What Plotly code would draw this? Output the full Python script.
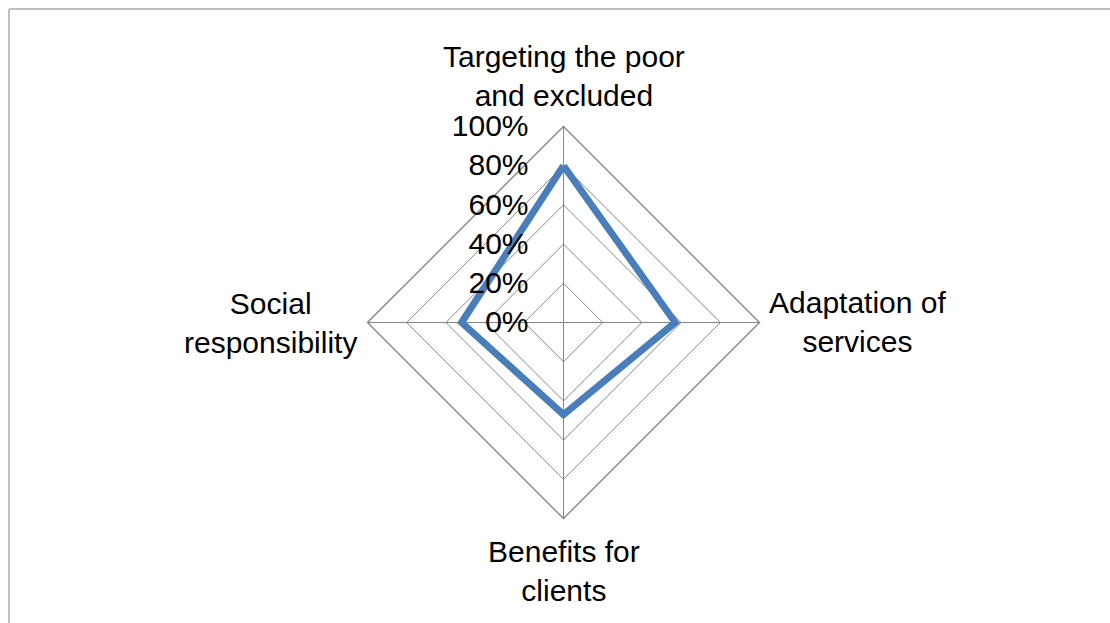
import plotly.graph_objects as go

categories = ["Targeting the poor and excluded", "Adaptation of services",
              "Benefits for clients", "Social responsibility"]
values = [0.80, 0.57, 0.47, 0.52]
radial_ticks = [0, 0.2, 0.4, 0.6, 0.8, 1.0]
radial_tick_labels = ["0%", "20%", "40%", "60%", "80%", "100%"]

FONT = "Liberation Sans Narrow, Arial Narrow, Liberation Sans, Arial, sans-serif"

fig = go.Figure()
fig.add_trace(go.Scatterpolar(
    r=values + values[:1],
    theta=categories + categories[:1],
    mode="lines",
    line=dict(color="#4a7ebb", width=7),
    showlegend=False,
))

cx, cy, R = 563.5, 322.5, 196
W, H = 1110, 623

fig.update_layout(
    width=W, height=H,
    margin=dict(l=0, r=0, t=0, b=0),
    paper_bgcolor="white",
    plot_bgcolor="white",
    font=dict(family=FONT, size=30, color="black"),
    polar=dict(
        domain=dict(x=[(cx - R) / W, (cx + R) / W],
                    y=[(H - cy - R) / H, (H - cy + R) / H]),
        bgcolor="rgba(0,0,0,0)",
        gridshape="linear",
        radialaxis=dict(
            range=[0, 1],
            tickvals=radial_ticks,
            ticktext=radial_tick_labels,
            angle=90,
            tickangle=90,
            side="counterclockwise",
            showline=False,
            gridcolor="#868686",
            gridwidth=1.4,
            ticks="outside",
            ticklen=24,
            tickcolor="rgba(0,0,0,0)",
            tickfont=dict(family=FONT, size=30, color="black"),
        ),
        angularaxis=dict(
            categoryorder="array",
            categoryarray=categories,
            rotation=90,
            direction="clockwise",
            showticklabels=False,
            ticks="",
            showline=True,
            linecolor="#868686",
            linewidth=1.4,
            gridcolor="#868686",
            gridwidth=1.4,
        ),
    ),
    shapes=[
        dict(type="line", xref="paper", yref="paper", x0=9 / W, x1=1.02, y0=1 - 9 / H, y1=1 - 9 / H,
             line=dict(color="#bfbfbf", width=2)),
        dict(type="line", xref="paper", yref="paper", x0=9 / W, x1=9 / W, y0=-0.02, y1=1 - 9 / H,
             line=dict(color="#bfbfbf", width=2)),
    ],
)

label_lines = [
    ("Targeting the poor<br>and excluded", 564, 76),
    ("Adaptation of<br>services", 857, 322),
    ("Benefits for<br>clients", 564, 571),
    ("Social<br>responsibility", 270, 323),
]
for text, x, y in label_lines:
    fig.add_annotation(text=text, x=x / W, y=1 - y / H, xref="paper", yref="paper",
                       showarrow=False, xanchor="center", yanchor="middle",
                       font=dict(family=FONT, size=30, color="black"))

fig.write_html("out.html")
